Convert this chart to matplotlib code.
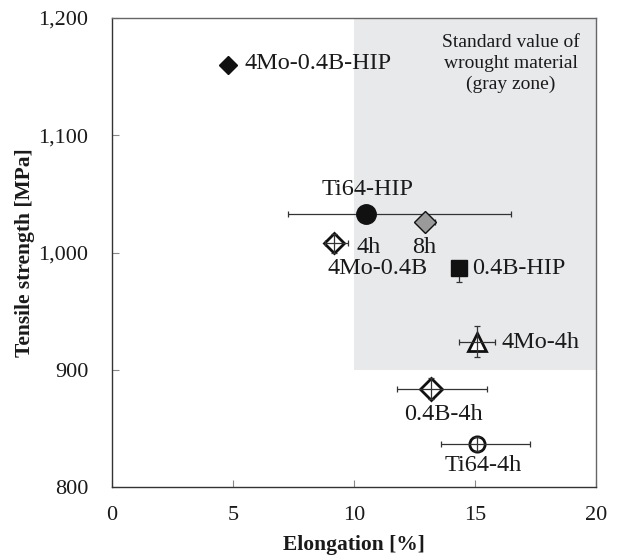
import matplotlib
matplotlib.use("Agg")
import matplotlib.pyplot as plt
from matplotlib.patches import Rectangle

plt.rcParams['font.family'] = ['Liberation Serif', 'DejaVu Serif']

# ---- data ----
names = ["4Mo-0.4B-HIP", "Ti64-HIP", "8h", "4h", "0.4B-HIP", "4Mo-4h", "0.4B-4h", "Ti64-4h"]
elongation = [4.8, 10.5, 12.95, 9.2, 14.35, 15.1, 13.2, 15.1]
strength = [1160, 1033, 1026, 1008, 987, 924, 884, 837]
xerr_lo = [0.15, 3.2, 0.2, 0.4, 0.0, 0.74, 1.4, 1.5]
xerr_hi = [0.15, 6.0, 0.4, 0.55, 0.0, 0.74, 2.3, 2.2]
yerr_lo = [4, 3, 3, 8, 12, 13, 9, 6]
yerr_hi = [4, 3, 3, 8, 0, 13, 9, 6]

# ---- styles ----
markers = ["D", "o", "D", "D", "s", "^", "D", "o"]
sizes = [9, 14, 11, 10, 12, 13, 11, 11]
faces = ["#111111", "#111111", "#9a9a9a", "white", "#111111", "white", "white", "white"]

labels = ["4Mo-0.4B-HIP", "Ti64-HIP", "8h", "4h", "4Mo-0.4B", "0.4B-HIP", "4Mo-4h", "0.4B-4h", "Ti64-4h"]
label_pos = [(5.5, 1161), (10.55, 1054), (12.9, 1004), (10.1, 1004), (11.0, 986),
             (14.9, 986), (16.1, 923), (13.7, 862), (15.35, 818)]
label_ha = ["left", "center", "center", "left", "center", "left", "left", "center", "center"]

fig = plt.figure(figsize=(6.18, 5.55), dpi=100)
ax = fig.add_axes([0.181, 0.1225, 0.783, 0.845])

ax.add_patch(Rectangle((10, 900), 10, 300, facecolor="#e8e9eb", edgecolor="none", zorder=0))

txt = "#1a1a1a"
for i in range(len(names)):
    is_open = faces[i] == "white"
    ax.plot(elongation[i], strength[i], marker=markers[i], markersize=sizes[i],
            markerfacecolor=faces[i], markeredgecolor="#111111",
            markeredgewidth=2.0 if is_open else 1.0,
            linestyle="none", zorder=3)
    ax.errorbar(elongation[i], strength[i],
                xerr=[[xerr_lo[i]], [xerr_hi[i]]], yerr=[[yerr_lo[i]], [yerr_hi[i]]],
                fmt="none", ecolor="#333333", elinewidth=0.9, capsize=2.5, capthick=0.9,
                zorder=4 if is_open else 2)

for lab, (x, y), ha in zip(labels, label_pos, label_ha):
    ax.text(x, y, lab, ha=ha, va="center", fontsize=17.5, color=txt, zorder=5)

ax.text(16.5, 1161, "Standard value of\nwrought material\n(gray zone)", ha="center", va="center",
        fontsize=14, color=txt, linespacing=1.3, zorder=5)

ax.set_xlim(0, 20)
ax.set_ylim(800, 1200)
ax.set_xticks([0, 5, 10, 15, 20])
ax.set_yticks([800, 900, 1000, 1100, 1200])
ax.set_yticklabels(["800", "900", "1,000", "1,100", "1,200"])
ax.tick_params(direction="in", length=5, width=0.8, color="#888888",
               labelsize=16, labelcolor=txt)
ax.tick_params(axis="x", pad=14)
ax.tick_params(axis="y", pad=17)
for s in ["left", "bottom"]:
    ax.spines[s].set_color("#333333")
    ax.spines[s].set_linewidth(1.0)
for s in ["top", "right"]:
    ax.spines[s].set_color("#666666")
    ax.spines[s].set_linewidth(1.0)

ax.set_xlabel("Elongation [%]", fontsize=15.5, fontweight="bold", color=txt, labelpad=7)
ax.set_ylabel("Tensile strength [MPa]", fontsize=15.5, fontweight="bold", color=txt, labelpad=2)

fig.savefig("out.png", dpi=100)
